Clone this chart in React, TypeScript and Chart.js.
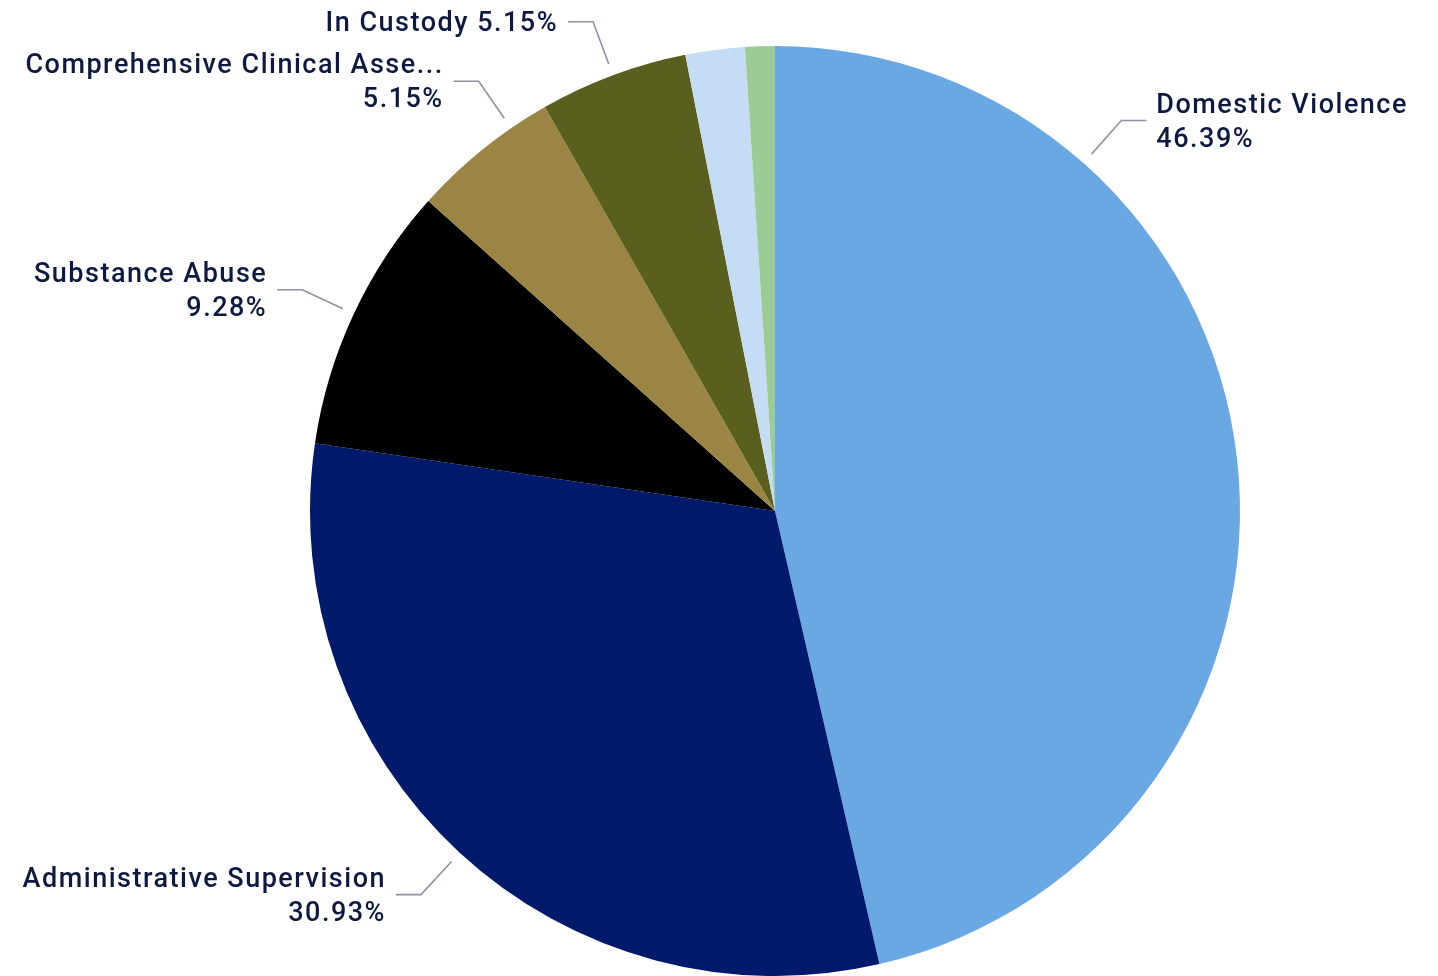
import React, { useEffect, useRef } from "react";
import { Chart, registerables } from "chart.js";

Chart.register(...registerables);

const categories = [
  "Domestic Violence",
  "Administrative Supervision",
  "Substance Abuse",
  "Comprehensive Clinical Assessment",
  "In Custody",
  "Other",
  "Unspecified",
];
const percentages = [46.39, 30.93, 9.28, 5.15, 5.15, 2.06, 1.03];
const sliceColors = ["#6AA8E3", "#001A6B", "#000000", "#9A8545", "#5A5F1E", "#C4DDF4", "#9CCB95"];
const labelVisible = [true, true, true, true, true, false, false];

const FONT = "500 27px Roboto";
const LETTER_SPACING = "1.5px";
const CAP_HALF = 9.7;
const TEXT_COLOR = "#0D1940";
const LINE_COLOR = "#8C92A2";
const LINE_GAP = 34;

const labelPlugin = {
  id: "pbiLabels",
  afterDraw(chart: any) {
    const ctx = chart.ctx as CanvasRenderingContext2D;
    const meta = chart.getDatasetMeta(0);
    const W = chart.width;
    ctx.save();
    ctx.font = FONT;
    (ctx as any).letterSpacing = LETTER_SPACING;
    ctx.textBaseline = "alphabetic";

    const geomFor = (p: any, a: number) => {
      const r = p.outerRadius;
      const c = Math.cos(a), s = Math.sin(a);
      const x0 = p.x + (r + 12) * c, y0 = p.y + (r + 12) * s;
      const x1 = p.x + (r + 57) * c, y1 = p.y + (r + 57) * s;
      const dir = c > 0 ? 1 : -1;
      const x2 = x1 + dir * 25;
      const tx = x2 + dir * 10;
      return { x0, y0, x1, y1, x2, tx, dir };
    };
    const w = (t: string) => ctx.measureText(t).width;
    const nLines = (g: any) => (g.y1 - LINE_GAP / 2 - 14 < 0 ? 1 : 2);

    const labels: any[] = meta.data.map((arc: any, i: number) => {
      if (!labelVisible[i]) return null;
      const p = arc.getProps(["x", "y", "startAngle", "endAngle", "outerRadius"], true);
      const ang = (p.startAngle + p.endAngle) / 2;
      return {
        i, ang, p, right: Math.cos(ang) > 0, name: categories[i],
        val: percentages[i].toFixed(2) + "%", g: geomFor(p, ang),
      };
    });

    // right side: rotate toward top until label fits horizontally
    labels.forEach((lb) => {
      if (!lb || !lb.right) return;
      let guard = 0;
      while (guard++ < 400) {
        lb.g = geomFor(lb.p, lb.ang);
        const tw = Math.max(w(lb.name), w(lb.val));
        if (lb.g.tx + tw <= W - 29 || lb.ang <= lb.p.startAngle + 0.02) break;
        lb.ang -= 0.004;
      }
    });

    // left side: if truncated, rotate toward top while not colliding with the next label
    for (let k = labels.length - 1; k >= 0; k--) {
      const lb = labels[k];
      if (!lb || lb.right) continue;
      const next = labels.slice(k + 1).find((x) => x && !x.right) || null;
      let guard = 0;
      while (guard++ < 400) {
        if (w(lb.name) <= lb.g.tx - 14) break;
        const na = lb.ang + 0.004;
        if (na >= lb.p.endAngle - 0.02) break;
        const ng = geomFor(lb.p, na);
        if (next) {
          const need = (nLines(next.g) * LINE_GAP + nLines(ng) * LINE_GAP) / 2 + 8;
          if (ng.y1 - next.g.y1 < need) break;
        }
        lb.ang = na;
        lb.g = ng;
      }
    }

    labels.forEach((lb) => {
      if (!lb) return;
      const g = lb.g;
      let label = lb.name;
      if (!lb.right) {
        const avail = g.tx - 14;
        if (w(label) > avail) {
          let t = lb.name;
          while (t.length > 1 && w(t + "...") > avail) t = t.slice(0, -1);
          label = t.trimEnd() + "...";
        }
      }
      const lines = nLines(g) === 2 ? [label, lb.val] : [label + " " + lb.val];

      ctx.strokeStyle = LINE_COLOR;
      ctx.lineWidth = 1.6;
      ctx.beginPath();
      ctx.moveTo(g.x0, g.y0);
      ctx.lineTo(g.x1, g.y1);
      ctx.lineTo(g.x2, g.y1);
      ctx.stroke();

      ctx.fillStyle = TEXT_COLOR;
      ctx.textAlign = g.dir > 0 ? "left" : "right";
      if (lines.length === 2) {
        ctx.fillText(lines[0], g.tx, g.y1 - 17.5 + CAP_HALF);
        ctx.fillText(lines[1], g.tx, g.y1 + 16.5 + CAP_HALF);
      } else {
        ctx.fillText(lines[0], g.tx, g.y1 - 0.5 + CAP_HALF);
      }
    });
    ctx.restore();
  },
};

export default function App() {
  const ref = useRef<HTMLCanvasElement | null>(null);
  useEffect(() => {
    document.body.style.margin = "0";
    if (!ref.current) return;
    const chart = new Chart(ref.current, {
      type: "pie",
      data: {
        labels: categories,
        datasets: [
          {
            data: percentages,
            backgroundColor: sliceColors,
            borderWidth: 0,
          },
        ],
      },
      options: {
        animation: false,
        responsive: true,
        maintainAspectRatio: false,
        layout: { padding: { left: 310, right: 198, top: 46, bottom: 0 } },
        plugins: {
          legend: { display: false },
          tooltip: { enabled: false },
        },
      },
      plugins: [labelPlugin],
    });
    return () => chart.destroy();
  }, []);
  return (
    <div style={{ width: 1438, height: 976, position: "relative" }}>
      <canvas ref={ref} />
    </div>
  );
}
